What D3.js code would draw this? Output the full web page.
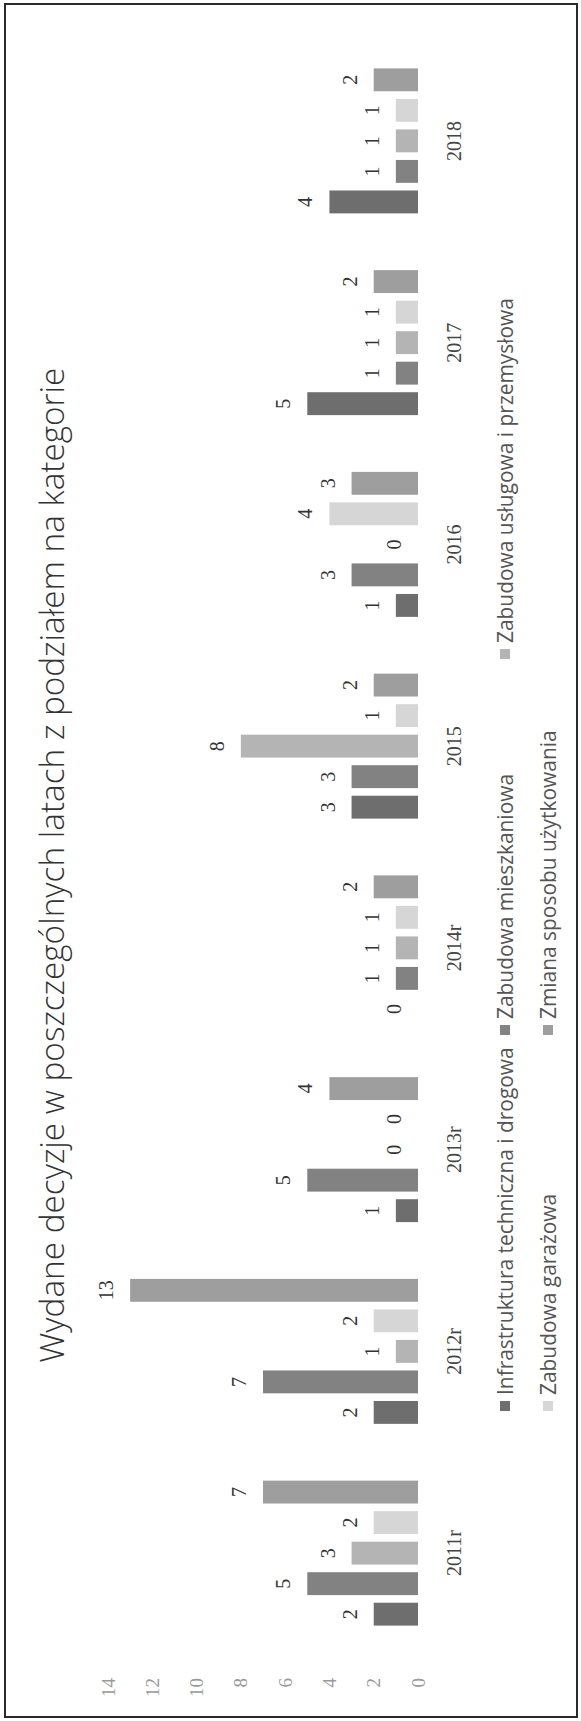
<!DOCTYPE html>
<html>
<head>
<meta charset="utf-8">
<script src="https://cdn.jsdelivr.net/npm/d3@7"></script>
<style>
  html, body { margin: 0; padding: 0; background: #fff; }
  svg { display: block; }
</style>
</head>
<body>
<script>
// ---- data ----
const categories = ["2011r", "2012r", "2013r", "2014r", "2015", "2016", "2017", "2018"];
const seriesNames = [
  "Infrastruktura techniczna i drogowa",
  "Zabudowa mieszkaniowa",
  "Zabudowa usługowa i przemysłowa",
  "Zabudowa garażowa",
  "Zmiana sposobu użytkowania"
];
const infrastruktura = [2, 2, 1, 0, 3, 1, 5, 4];
const mieszkaniowa   = [5, 7, 5, 1, 3, 3, 1, 1];
const uslugowa       = [3, 1, 0, 1, 8, 0, 1, 1];
const garazowa       = [2, 2, 0, 1, 1, 4, 1, 1];
const zmiana         = [7, 13, 4, 2, 2, 3, 2, 2];
const yTicks = [0, 2, 4, 6, 8, 10, 12, 14];
const title = "Wydane decyzje w poszczególnych latach z podziałem na kategorie";

const seriesValues = [infrastruktura, mieszkaniowa, uslugowa, garazowa, zmiana];
const colors = ["#6e6e6e", "#828282", "#b4b4b4", "#d6d6d6", "#9e9e9e"];

// ---- layout (chart drawn landscape, then rotated -90deg) ----
const PW = 581, PH = 1721;     // page
const W = PH, H = PW;          // unrotated chart size

const svg = d3.select("body").append("svg")
  .attr("width", PW).attr("height", PH);
svg.append("rect").attr("width", PW).attr("height", PH).attr("fill", "#fff");

const g = svg.append("g").attr("transform", `translate(0,${PH}) rotate(-90)`);

// border
g.append("rect")
  .attr("x", 4).attr("y", 5).attr("width", W - 8).attr("height", H - 9)
  .attr("fill", "none").attr("stroke", "#2a2a2a").attr("stroke-width", 2);

const x0 = d3.scaleBand().domain(categories).range([67, 1681]).paddingInner(0).paddingOuter(0);
const x1 = d3.scaleBand().domain(d3.range(seriesNames.length))
  .range([0, x0.bandwidth()]).paddingInner(0.25).paddingOuter(0.93);
const y = d3.scaleLinear().domain([0, 14]).range([418, 108]);

// title (fitted to the reference's extent)
const titleText = g.append("text")
  .attr("x", 856).attr("y", 64)
  .attr("text-anchor", "middle")
  .attr("font-family", "Open Sans, Liberation Sans, sans-serif")
  .attr("font-weight", 300)
  .attr("font-size", 30)
  .attr("fill", "#333")
  .text(title);
{
  const L = titleText.node().getComputedTextLength();
  titleText.attr("font-size", 30 * 995 / L);
}

// value axis tick labels
const yAxis = d3.axisLeft(y).tickValues(yTicks).tickSize(0).tickPadding(0);
const ya = g.append("g").attr("transform", "translate(43,0)").call(yAxis);
ya.select(".domain").remove();
ya.selectAll("text")
  .attr("font-family", "Liberation Serif, serif")
  .attr("font-size", 19)
  .attr("fill", "#9a9a9a");

// bars
const groups = g.append("g").selectAll("g")
  .data(categories).join("g")
  .attr("transform", d => `translate(${x0(d)},0)`);

groups.each(function(cat, ci) {
  const sel = d3.select(this);
  seriesValues.forEach((vals, si) => {
    const v = vals[ci];
    sel.append("rect")
      .attr("x", x1(si)).attr("width", x1.bandwidth())
      .attr("y", y(v)).attr("height", y(0) - y(v))
      .attr("fill", colors[si]);
    sel.append("text")
      .attr("x", x1(si) + x1.bandwidth() / 2)
      .attr("y", y(v) - 17)
      .attr("text-anchor", "middle")
      .attr("font-family", "Liberation Serif, serif")
      .attr("font-size", 20)
      .attr("fill", "#333")
      .text(v);
  });
});

// category axis
const xAxis = d3.axisBottom(x0).tickSize(0).tickPadding(0);
const xa = g.append("g").attr("transform", "translate(0,443)").call(xAxis);
xa.select(".domain").remove();
xa.selectAll("text")
  .attr("font-family", "Liberation Serif, serif")
  .attr("font-size", 20)
  .attr("fill", "#444")
  .attr("dy", "0.9em");

// legend (grid of 3 equal columns)
const legStartX = 310, colW = 376, rowY = [505, 548];
const leg = g.append("g");
const legTexts = [];
seriesNames.forEach((name, i) => {
  const col = i % 3, row = Math.floor(i / 3);
  const lx = legStartX + col * colW, ly = rowY[row];
  leg.append("rect")
    .attr("x", lx).attr("y", ly - 5).attr("width", 10).attr("height", 10)
    .attr("fill", colors[i]);
  legTexts.push(leg.append("text")
    .attr("x", lx + 16).attr("y", ly)
    .attr("dominant-baseline", "central")
    .attr("font-family", "Open Sans, Liberation Sans, sans-serif")
    .attr("font-size", 18)
    .attr("fill", "#555")
    .text(name));
});
{
  const L = legTexts[0].node().getComputedTextLength();
  const fs = 18 * 348 / L;
  legTexts.forEach(t => t.attr("font-size", fs));
}
</script>
</body>
</html>
